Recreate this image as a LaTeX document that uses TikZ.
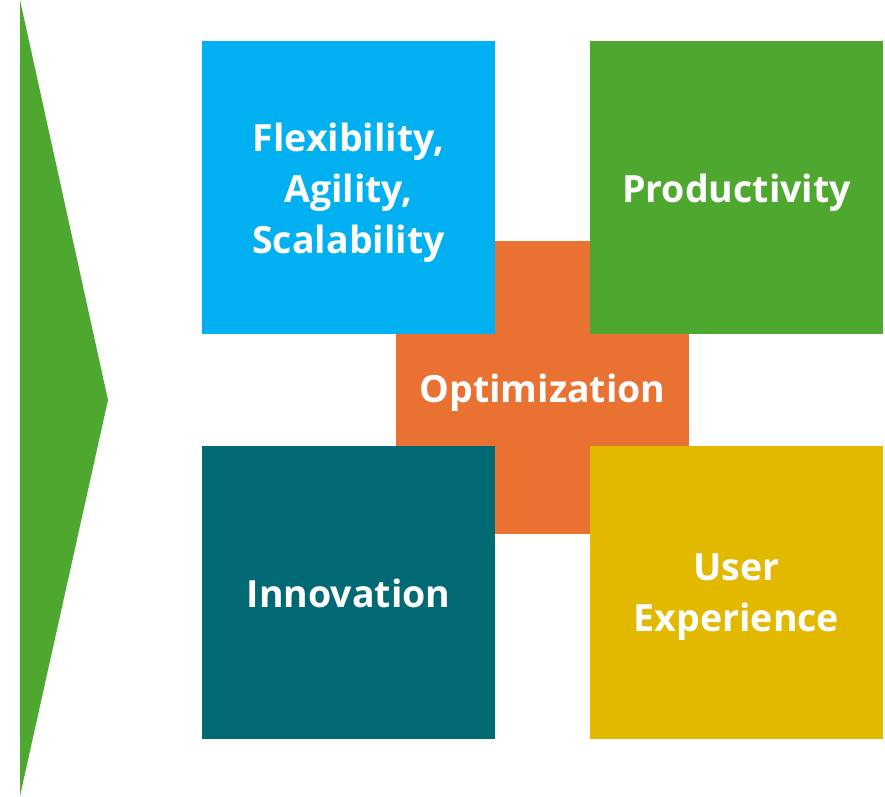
\documentclass[tikz,border=0pt]{standalone}
\usepackage{fontspec}
\setmainfont{Open Sans}[UprightFont=* Bold]
\definecolor{cblue}{RGB}{0,176,240}
\definecolor{cgreen}{RGB}{78,167,46}
\definecolor{corange}{RGB}{233,113,50}
\definecolor{cteal}{RGB}{0,105,116}
\definecolor{cyellow}{RGB}{227,185,0}
\begin{document}
\begin{tikzpicture}[x=1pt,y=-1pt,
  tile/.style={rectangle,inner sep=0pt,outer sep=0pt,minimum width=293pt,minimum height=293pt,anchor=north west},
  lbl/.style={text=white,align=center,inner sep=0pt,font=\fontsize{37.5}{51}\selectfont}]
\useasboundingbox (0,0) rectangle (885,796);
\fill[cgreen] (20,0) coordinate (t1) -- (108,400) coordinate (t2) -- (20,796) coordinate (t3) -- cycle;
\node[tile,fill=corange] (opt) at (396,241) {};
\node[tile,fill=cblue] (flex) at (202,41) {};
\node[tile,fill=cgreen] (prod) at (590,41) {};
\node[tile,fill=cteal] (inno) at (202,446) {};
\node[tile,fill=cyellow] (ux) at (590,446) {};
\node[lbl] (flexlabel) at ([yshift=-5pt]flex.center) {Flexibility,\\Agility,\\Scalability};
\node[lbl] (prodlabel) at ([yshift=-5pt]prod.center) {Productivity};
\node[lbl] (innolabel) at ([yshift=-5pt]inno.center) {Innovation\vphantom{p}};
\node[lbl] (uxlabel) at ([yshift=-5pt]ux.center) {User\\Experience};
\node[lbl] (optlabel) at ([yshift=-5pt]opt.center) {Optimization};
\end{tikzpicture}
\end{document}
